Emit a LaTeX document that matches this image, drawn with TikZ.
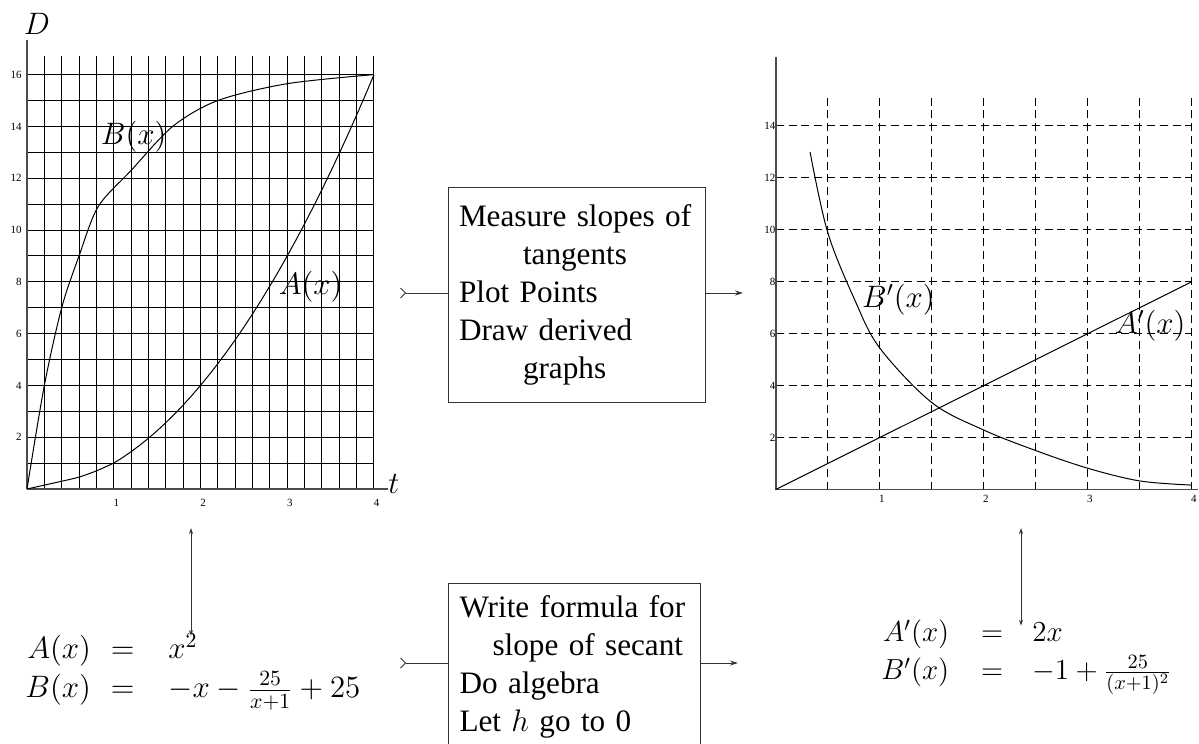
\RequirePackage{fix-cm}
\documentclass[tikz,border=0pt]{standalone}
\usepackage{amsmath}
\usepackage[no-math]{fontspec}
\setmainfont{Liberation Serif}
\usetikzlibrary{arrows.meta, positioning, calc}

\tikzset{
  gridline/.style={line width=0.5pt},
  axisline/.style={line width=0.8pt, black!70},
  dashline/.style={line width=0.5pt, dash pattern=on 4pt off 2.4pt},
  curve/.style={line width=0.5pt},
  ticklbl/.style={font=\fontsize{5.5}{6}\selectfont, inner sep=0pt},
  lbl/.style={font=\fontsize{15.5}{18}\selectfont, inner sep=0pt},
  stepbox/.style={draw=black!80, line width=0.5pt, align=left, inner xsep=5.5pt, font=\fontsize{15.6}{19}\selectfont},
  eqn/.style={inner sep=0pt, anchor=west},
  tail/.style={line width=0.5pt, draw=black!80, {Straight Barb[reversed, length=2.5pt, width=5pt]}-},
  head/.style={line width=0.5pt, draw=black!80, -{Stealth[length=4pt, width=2.5pt]}},
  link/.style={line width=0.5pt, draw=black!80, {Stealth[length=3pt, width=2pt]}-{Stealth[length=3pt, width=2pt]}}
}

\begin{document}
\begin{tikzpicture}[x=0.5pt, y=-0.5pt]
    \useasboundingbox (0,0) rectangle (1199,744);

    % Left graph: A(x) and B(x)
    \begin{scope}[shift={(27,489)}, x=43.375pt, y=12.95pt]
        \foreach \i in {1,...,20}
            \draw[gridline] (0.2*\i,0) -- (0.2*\i,16.7);
        \foreach \j in {1,...,16}
            \draw[gridline] (0,\j) -- (4,\j);
        \draw[axisline] (0,0) -- (4.16,0);
        \draw[axisline] (0,0) -- (0,17.34);
        \foreach \j in {2,4,...,16}
            \node[ticklbl, anchor=east] (ly\j) at (-0.058,\j) {\j};
        \foreach \i in {1,...,4}
            \node[ticklbl] (lx\i) at (\i+0.03,-0.54) {\i};
        \node[lbl] (Dlbl) at (0.115,17.95) {$D$};
        \node[lbl] (tlbl) at (4.23,0.2) {$t$};

        % curves
        \draw[curve] plot[smooth, tension=0.5] coordinates {(0,0) (0.2,4) (0.4,7) (0.6,9) (0.82,10.9) (1.2,12.3) (1.68,14) (2.2,15) (3,15.65) (4,16)};
        \draw[curve] plot[smooth, tension=0.5] coordinates {(0,0) (0.4,0.3) (0.6,0.46) (0.8,0.7) (1,1)}
            -- plot[domain=1:4, samples=31] (\x,{\x*\x});
        \node[lbl] (Blbl) at (1.23,13.6) {$B(x)$};
        \node[lbl] (Albl) at (3.27,7.8) {$A(x)$};
    \end{scope}

    % Right graph: A'(x) and B'(x)
    \begin{scope}[shift={(775.7,489.5)}, x=52pt, y=12.985pt]
        \foreach \i in {0.5,1,...,4}
            \draw[dashline] (\i,0) -- (\i,15.2);
        \foreach \j in {2,4,...,14}
            \draw[dashline] (0,\j) -- (4,\j);
        \draw[axisline] (0,0) -- (4.06,0);
        \draw[axisline] (0,0) -- (0,16.67);
        \foreach \j in {2,4,...,14}
            \node[ticklbl, anchor=east] (ry\j) at (0,\j) {\j};
        \foreach \i in {1,...,4}
            \node[ticklbl] (rx\i) at (\i+0.02,-0.37) {\i};

        % curves
        \draw[curve] (0,0) -- (4,8);
        \draw[curve] plot[smooth, tension=0.55] coordinates {(0.33,13) (0.5,9.9) (0.76,7.3) (1,5.45) (1.5,3.35) (2,2.29) (2.5,1.5) (3,0.82) (3.5,0.33) (4,0.17)};
        \node[lbl] (Bplbl) at (1.18,7.3) {$B'(x)$};
        \node[lbl] (Aplbl) at (3.6,6.3) {$A'(x)$};
    \end{scope}

    % Boxes
    \node[stepbox, minimum width=128.5pt, minimum height=107.5pt, text width=117.5pt] (tangent) at (576.5,294.5)
        {Measure slopes of\\ \hspace*{32pt}tangents\\ Plot Points\\ Draw derived\\ \hspace*{32pt}graphs};
    \node[stepbox, text width=115pt, inner ysep=6pt, anchor=north west] (secant) at (448,583)
        {Write formula for\\ \hspace*{16.5pt}slope of secant\\ Do algebra\\ Let $h$ go to 0};

    % Formulas
    \node[eqn, font=\fontsize{15.5}{19.5}\selectfont] (formA) at (25,671)
        {$\begin{array}{@{}r@{\hspace{10pt}}c@{\hspace{17pt}}l@{}}
            A(x) & = & x^2\\
            B(x) & = & -x-\frac{25}{x+1}+25
        \end{array}$};
    \node[eqn, font=\fontsize{14.5}{19}\selectfont] (formB) at (881,655)
        {$\begin{array}{@{}r@{\hspace{16pt}}c@{\hspace{14.5pt}}l@{}}
            A'(x) & = & 2x\\
            B'(x) & = & -1+\frac{25}{(x+1)^2}
        \end{array}$};

    % Arrows
    \coordinate (fromL) at (400,293);
    \coordinate (toR) at (743,293);
    \coordinate (fromE) at (400,663);
    \coordinate (toE) at (738,663);
    \coordinate (lgraph) at (191,528);
    \coordinate (rgraph) at (1021,528);
    \draw[tail] (fromL) -- (fromL -| tangent.west);
    \draw[head] (tangent.east |- toR) -- (toR);
    \draw[tail] (fromE) -- (fromE -| secant.west);
    \draw[head] (secant.east |- toE) -- (toE);
    \draw[link, shorten >=-2.3pt] (lgraph) -- (lgraph |- formA.north);
    \draw[link, shorten >=-5.4pt] (rgraph) -- (rgraph |- formB.north);
\end{tikzpicture}
\end{document}
